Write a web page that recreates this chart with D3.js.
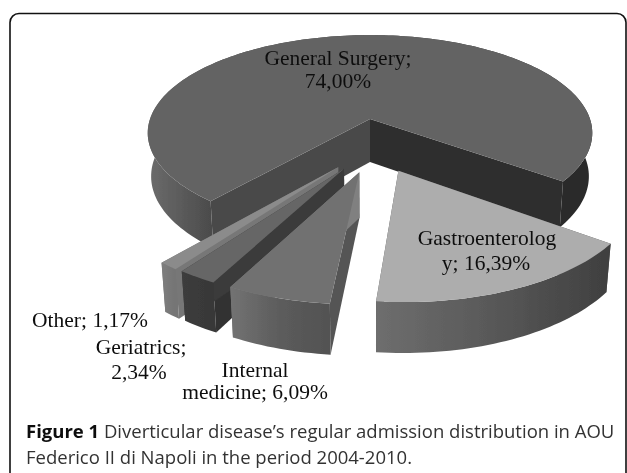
<!DOCTYPE html>
<html>
<head>
<meta charset="utf-8">
<script src="https://cdn.jsdelivr.net/npm/d3@7"></script>
<style>
html, body { margin: 0; padding: 0; background: #fff; overflow: hidden; }
svg { display: block; }
</style>
</head>
<body>
<svg id="chart" width="627" height="473"></svg>
<script>
// data
const categories = ["General Surgery", "Gastroenterology", "Internal medicine", "Geriatrics", "Other"];
const values = [74.00, 16.39, 6.09, 2.34, 1.17];

// how each slice is pulled out of the pie, in pie radius units
const explodeX = [0, 0.12, -0.045, -0.11, -0.135];
const explodeY = [0, 0.5, 0.515, 0.484, 0.47];

// colours, one per slice
const topColors = ["#646464", "#adadad", "#717171", "#666666", "#8b8b8b"];
const startFaceColors = ["#4a4a4a", "#555555", "#555555", "#333333", "#777777"];
const endFaceColors = ["#2e2e2e", "#555555", "#808080", "#3a3a3a", "#777777"];
const wallStops = [
	[[0, "#6c6c6c"], [0.14, "#4c4c4c"], [0.9, "#2b2b2b"], [1, "#2b2b2b"]],
	[[0, "#6e6e6e"], [0.5, "#585858"], [1, "#3f3f3f"]],
	[[0, "#737373"], [0.5, "#5c5c5c"], [1, "#525252"]],
	[[0, "#3c3c3c"], [1, "#383838"]],
	[[0, "#7e7e7e"], [1, "#747474"]]
];
const drawOrder = [0, 4, 3, 2, 1];

// label text, with the line breaks of the picture
const labelLines = [
	{ text: "General Surgery;", x: 338, y: 65 },
	{ text: "74,00%", x: 338, y: 88 },
	{ text: "Gastroenterolog", x: 487, y: 245 },
	{ text: "y; 16,39%", x: 486, y: 270 },
	{ text: "Other; 1,17%", x: 90, y: 327 },
	{ text: "Geriatrics;", x: 141, y: 354 },
	{ text: "2,34%", x: 139, y: 379 },
	{ text: "Internal", x: 255, y: 377 },
	{ text: "medicine; 6,09%", x: 255, y: 399 }
];

const svg = d3.select("#chart");
const defs = svg.append("defs");
defs.append("filter").attr("id", "soft")
	.append("feGaussianBlur").attr("stdDeviation", 0.4);

// frame of the figure box, the bottom runs out of the picture
svg.append("rect")
	.attr("x", 10).attr("y", 13.5)
	.attr("width", 616).attr("height", 500)
	.attr("rx", 9).attr("ry", 9)
	.attr("fill", "none").attr("stroke", "#111").attr("stroke-width", 1.6);

// perspective view of the pie, flat circle of radius 1
const cx = 370, cy = 119, R = 220;
const sinE = 0.436, cosE = 0.9, dist = 6.3, thick = 0.22;

function project(x, y, z) {
	let s = dist / (dist - (y * cosE + z * sinE));
	return [cx + R * x * s, cy + R * (y * sinE - z * cosE) * s];
}

const pie = d3.pie().sort(null)
	.startAngle(220.2 * Math.PI / 180)
	.endAngle((220.2 + 360) * Math.PI / 180);
const slices = pie(values);
const line = d3.line();

function rimPoints(d, i, z) {
	let n = Math.max(4, Math.ceil((d.endAngle - d.startAngle) * 40));
	return d3.range(n + 1).map(k => {
		let a = d.startAngle + (d.endAngle - d.startAngle) * k / n;
		return project(Math.sin(a) + explodeX[i], -Math.cos(a) + explodeY[i], z);
	});
}

function facePoints(a, i) {
	let ex = explodeX[i], ey = explodeY[i];
	let rx = Math.sin(a) + ex, ry = -Math.cos(a) + ey;
	return [project(ex, ey, 0), project(rx, ry, 0), project(rx, ry, -thick), project(ex, ey, -thick)];
}

const pieG = svg.append("g").attr("filter", "url(#soft)");

drawOrder.forEach(i => {
	let d = slices[i];
	let top = rimPoints(d, i, 0);
	let bottom = rimPoints(d, i, -thick);

	let xr = d3.extent(top, p => p[0]);
	let grad = defs.append("linearGradient")
		.attr("id", "wall" + i)
		.attr("gradientUnits", "userSpaceOnUse")
		.attr("x1", xr[0]).attr("x2", xr[1]).attr("y1", 0).attr("y2", 0);
	grad.selectAll("stop").data(wallStops[i]).enter().append("stop")
		.attr("offset", s => s[0])
		.attr("stop-color", s => s[1]);

	let g = pieG.append("g").attr("class", "slice slice" + i);
	g.append("path")
		.attr("d", line(facePoints(d.startAngle, i)) + "Z")
		.attr("fill", startFaceColors[i]);
	g.append("path")
		.attr("d", line(facePoints(d.endAngle, i)) + "Z")
		.attr("fill", endFaceColors[i]);
	g.append("path")
		.attr("d", line(top.concat(bottom.slice().reverse())) + "Z")
		.attr("fill", `url(#wall${i})`);
	g.append("path")
		.attr("d", line([project(explodeX[i], explodeY[i], 0)].concat(top)) + "Z")
		.attr("fill", topColors[i]);
});

svg.append("g").attr("filter", "url(#soft)")
	.selectAll("text").data(labelLines).enter().append("text")
	.attr("x", d => d.x)
	.attr("y", d => d.y)
	.attr("text-anchor", "middle")
	.attr("font-family", "'Liberation Serif', serif")
	.attr("font-size", 21.5)
	.attr("fill", "#111")
	.text(d => d.text);

// caption
const caption = svg.append("g")
	.attr("filter", "url(#soft)")
	.attr("font-family", "'Open Sans', sans-serif")
	.attr("font-size", 18.5)
	.attr("fill", "#333");
let cap1 = caption.append("text").attr("x", 26).attr("y", 437.5);
cap1.append("tspan").attr("font-weight", "bold").attr("fill", "#111").text("Figure 1");
cap1.append("tspan").text(" Diverticular disease\u2019s regular admission distribution in AOU");
caption.append("text").attr("x", 26).attr("y", 464)
	.text("Federico II di Napoli in the period 2004-2010.");
</script>
</body>
</html>
